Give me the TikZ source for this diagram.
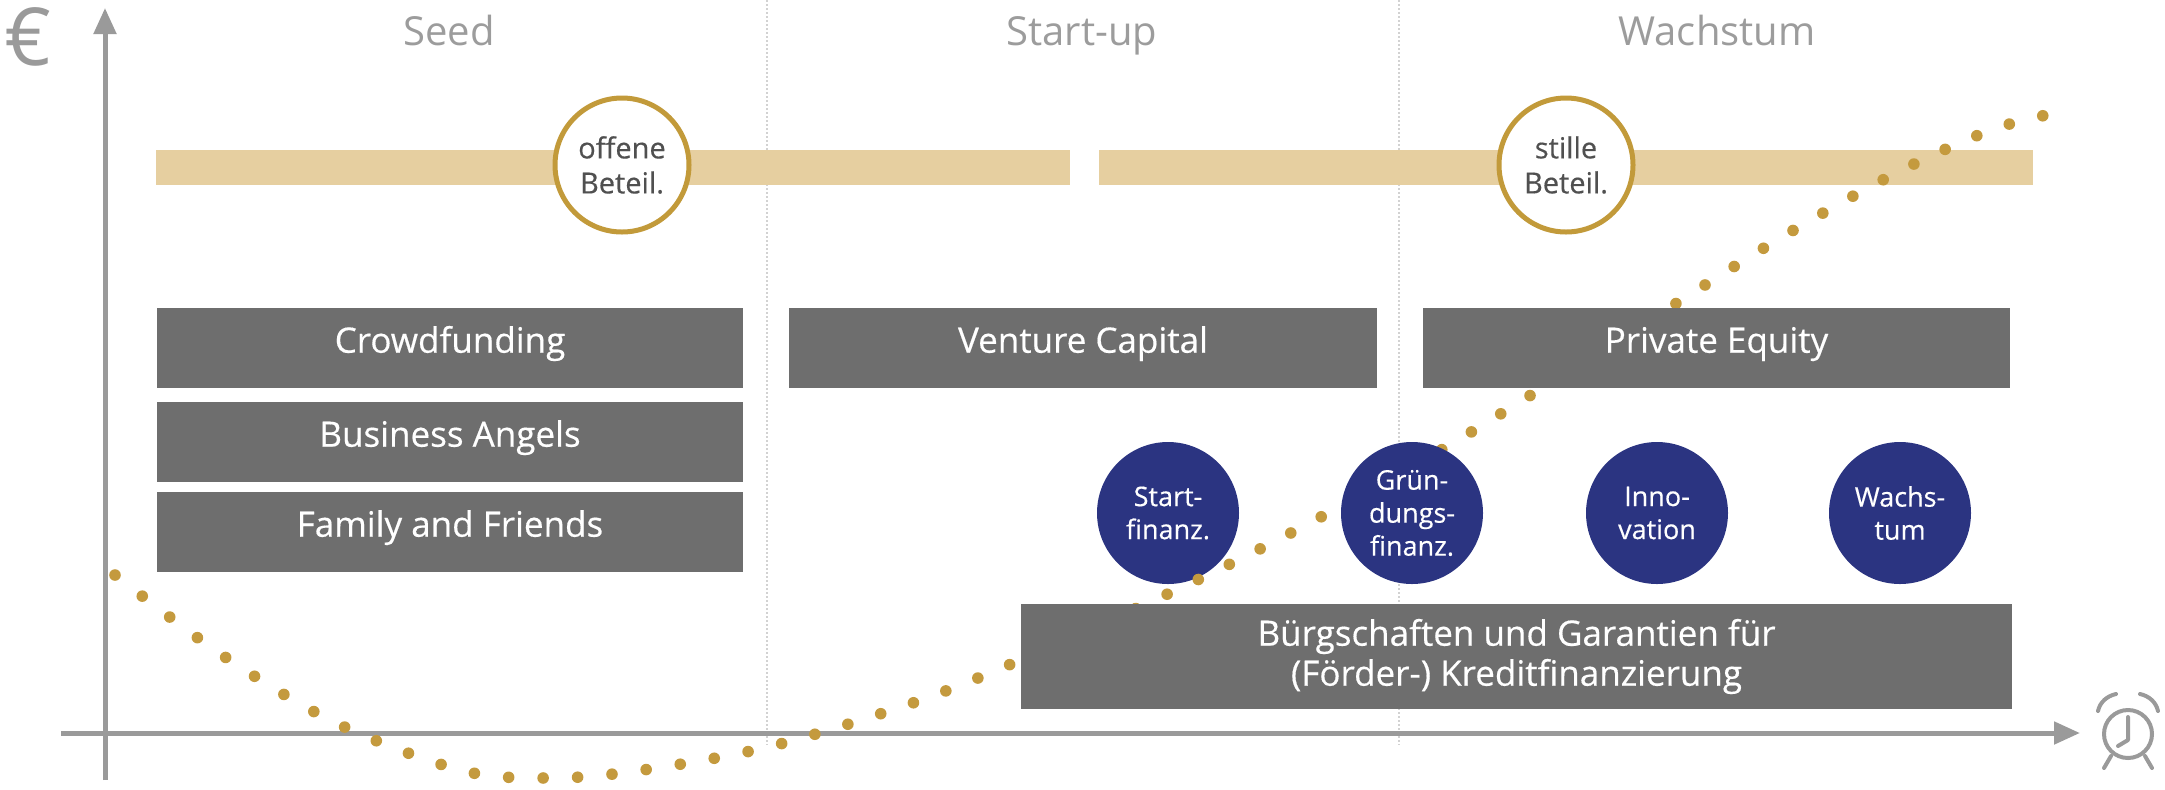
\documentclass[tikz,border=0pt]{standalone}
\usepackage{fontspec}
\setmainfont{Open Sans}
\newfontfamily\semib[FakeBold=0.4]{Open Sans}
\usetikzlibrary{arrows.meta}
\definecolor{boxgray}{HTML}{6E6E6E}
\definecolor{bandtan}{HTML}{E6CFA0}
\definecolor{ringgold}{HTML}{C29A3A}
\definecolor{navyblue}{HTML}{2B3481}
\definecolor{axisgray}{HTML}{9A9A9A}
\definecolor{headgray}{HTML}{9C9C9C}
\definecolor{dotgold}{HTML}{C49A3E}
\definecolor{divgray}{HTML}{D2D2D2}
\definecolor{ringtext}{HTML}{505050}
\begin{document}
\begin{tikzpicture}[x=0.5pt,y=-0.5pt,
  graybox/.style={rectangle, fill=boxgray, inner sep=0pt, text=white,
    font=\semib\fontsize{17.5pt}{20pt}\selectfont, text height=0.72em, text depth=0.25em},
  graybox2/.style={rectangle, fill=boxgray, inner sep=0pt, text=white, align=center,
    font=\semib\fontsize{17.5pt}{20pt}\selectfont},
  navycircle/.style={circle, fill=navyblue, minimum size=71pt, inner sep=0pt, text=white,
    align=center, font=\semib\fontsize{13.5pt}{16.5pt}\selectfont},
  goldring/.style={circle, draw=ringgold, line width=2.5pt, fill=white, minimum size=67pt,
    inner sep=0pt, text=ringtext, align=center, font=\semib\fontsize{14.5pt}{17.5pt}\selectfont},
  phase/.style={anchor=base, text=headgray, inner sep=0pt, font=\fontsize{20pt}{24pt}\selectfont},
  axisline/.style={draw=axisgray, line width=2.5pt, -{Triangle[width=11pt,length=13pt]}},
  divider/.style={draw=divgray, line width=0.6pt, dash pattern=on 1pt off 1pt},
  dotcurve/.style={draw=dotgold, line width=5.8pt, line cap=round, dash pattern=on 0pt off 17.25pt},
  clockline/.style={draw=axisgray, line width=2pt, line cap=round, line join=round}
]
\useasboundingbox (0,0) rectangle (2165,789);

% phase dividers
\coordinate (d1t) at (767,0); \coordinate (d1b) at (767,745);
\coordinate (d2t) at (1399,0); \coordinate (d2b) at (1399,745);
\draw[divider] (d1t) -- (d1b);
\draw[divider] (d2t) -- (d2b);

% axes
\coordinate (yb) at (105,780); \coordinate (yt) at (105,8);
\coordinate (xl) at (61,733); \coordinate (xr) at (2080,733);
\draw[axisline] (yb) -- (yt);
\draw[axisline] (xl) -- (xr);

% band
\fill[bandtan] (156,150) rectangle (1070,185);
\fill[bandtan] (1099,150) rectangle (2033,185);
\node[goldring] (offen) at (622,165) {offene\\Beteil.};
\node[goldring] (still) at (1566,165) {stille\\Beteil.};

% top boxes
\node[graybox, minimum width=293pt, minimum height=40pt] (crowd) at (450,348) {Crowdfunding};
\node[graybox, minimum width=293pt, minimum height=40pt] (angels) at (450,442) {Business Angels};
\node[graybox, minimum width=293pt, minimum height=40pt] (family) at (450,532) {Family and Friends};
\node[graybox, minimum width=294pt, minimum height=40pt] (vc) at (1083,348) {Venture Capital};

% first blue circle (below the dots)
\node[navycircle] (startf) at (1168,513) {Start-\\finanz.};

% dotted curve
\draw[dotcurve] plot[smooth, tension=0.55] coordinates {
  (115,575) (222,655) (336,723) (460,770) (544,778) (629,772) (764,748)
  (895,709) (990,673) (1148,603) (1240,559) (1330,512) (1453,443)
  (1620,339) (1777,240) (1898,172) (1994,129) (2061,112)};

% boxes and circles above the dots
\node[graybox, minimum width=293.5pt, minimum height=40pt] (pe) at (1716.5,348) {Private Equity};
\node[navycircle] (gruend) at (1412,513) {Grün-\\dungs-\\finanz.};
\node[navycircle] (innov) at (1657,513) {Inno-\\vation};
\node[navycircle] (wachs) at (1900,513) {Wachs-\\tum};
\node[graybox2, minimum width=495.5pt, minimum height=52.5pt] (buerg) at (1516.5,656.5)
  {Bürgschaften und Garantien für\\(Förder-) Kreditfinanzierung};

% headings
\node[phase] (seed) at (449,45) {Seed};
\node[phase] (startup) at (1082,45) {Start-up};
\node[phase] (wachstum) at (1717,45) {Wachstum};
\node[anchor=base, inner sep=0pt, text=axisgray, font=\fontsize{40pt}{44pt}\selectfont] (euro) at (28,65) {€};

% clock
\draw[clockline] (2128,734) circle (24);
\draw[clockline] (2098,711) .. controls (2100,702) and (2107,696) .. (2116,694);
\draw[clockline] (2158,711) .. controls (2156,702) and (2149,696) .. (2140,694);
\draw[clockline] (2128,717) -- (2128,740) -- (2118,746);
\draw[clockline] (2111,756) -- (2104,768);
\draw[clockline] (2145,756) -- (2152,768);
\end{tikzpicture}
\end{document}
